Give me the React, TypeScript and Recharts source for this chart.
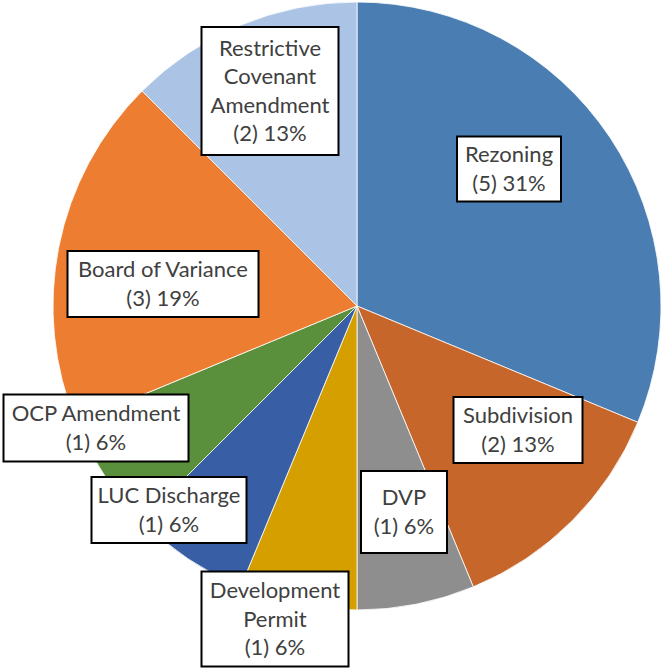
import { PieChart, Pie, Cell } from 'recharts';

const categories = [
  'Rezoning',
  'Subdivision',
  'DVP',
  'Development Permit',
  'LUC Discharge',
  'OCP Amendment',
  'Board of Variance',
  'Restrictive Covenant Amendment',
];
const counts = [5, 2, 1, 1, 1, 1, 3, 2];
const colors = ['#4A7EB2', '#C6662A', '#8E8E8E', '#D59F00', '#385EA6', '#5A8F3B', '#ED7D31', '#ABC4E6'];

// label box placement (center offset from pie center, size, wrap width in chars)
const labelLayout = [
  { dx: 152, dy: -137, w: 104, h: 65, wrap: 20 },
  { dx: 161, dy: 124, w: 129, h: 66, wrap: 20 },
  { dx: 47, dy: 206, w: 86, h: 82, wrap: 20 },
  { dx: -82, dy: 313, w: 147, h: 95, wrap: 11 },
  { dx: -188, dy: 204, w: 155, h: 66, wrap: 20 },
  { dx: -261, dy: 122, w: 185, h: 67, wrap: 20 },
  { dx: -194, dy: -22, w: 191, h: 66, wrap: 20 },
  { dx: -87, dy: -215, w: 137, h: 128, wrap: 11 },
];

const total = counts.reduce((a, b) => a + b, 0);
const data = categories.map((name, i) => ({ name, value: counts[i] }));

function wrapWords(text: string, max: number): string[] {
  const out: string[] = [];
  let cur = '';
  text.split(' ').forEach(w => {
    if (cur && (cur + ' ' + w).length > max) {
      out.push(cur);
      cur = w;
    } else {
      cur = cur ? cur + ' ' + w : w;
    }
  });
  if (cur) out.push(cur);
  return out;
}

const FONT = 22;
const LINE_H = 28.5;

function renderLabel(props: any) {
  const { cx, cy, index, name, value } = props;
  const lay = labelLayout[index];
  const bx = cx + lay.dx;
  const by = cy + lay.dy;
  const lines = [...wrapWords(name, lay.wrap), `(${value}) ${Math.round((value / total) * 100)}%`];
  const first = by - ((lines.length - 1) / 2) * LINE_H + FONT * 0.35;
  return (
    <g key={`lbl-${index}`}>
      <rect x={bx - lay.w / 2} y={by - lay.h / 2} width={lay.w} height={lay.h} fill="#ffffff" stroke="#000000" strokeWidth={2} />
      <text x={bx} textAnchor="middle" fill="#404040" fontSize={FONT} fontFamily="Lato, 'Open Sans', sans-serif">
        {lines.map((l, j) => (
          <tspan key={j} x={bx} y={first + j * LINE_H}>{l}</tspan>
        ))}
      </text>
    </g>
  );
}

export default function App() {
  return (
    <div style={{ position: 'absolute', left: 0, top: 0, width: 663, height: 668, background: '#ffffff' }}>
      <PieChart width={663} height={668} margin={{ top: 0, right: 0, bottom: 0, left: 0 }}>
        <Pie
          data={data}
          dataKey="value"
          nameKey="name"
          cx={357}
          cy={306}
          outerRadius={304}
          startAngle={90}
          endAngle={-270}
          stroke="#ffffff"
          strokeWidth={0.8}
          label={renderLabel}
          labelLine={false}
          isAnimationActive={false}
        >
          {data.map((d, i) => (
            <Cell key={d.name} fill={colors[i]} />
          ))}
        </Pie>
      </PieChart>
    </div>
  );
}
